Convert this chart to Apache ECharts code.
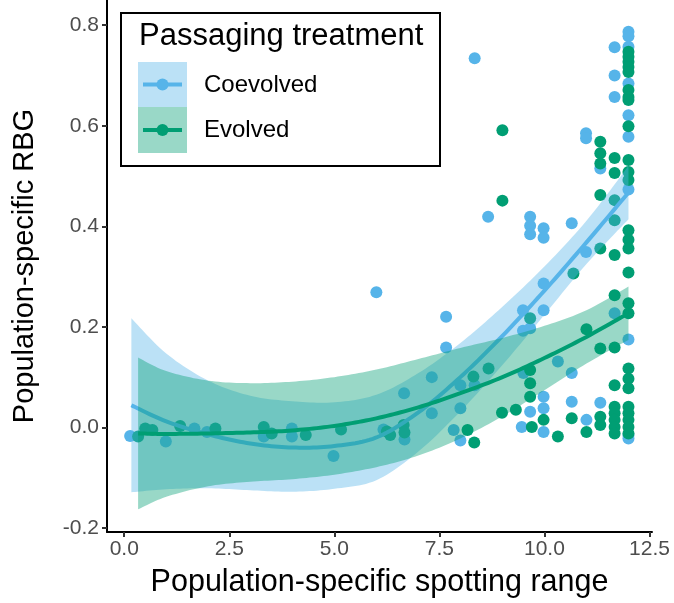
<!DOCTYPE html>
<html>
<head>
<meta charset="utf-8">
<script src="https://cdn.jsdelivr.net/npm/echarts@6/dist/echarts.min.js"></script>
<style>
html,body{margin:0;padding:0;background:#fff;}
#chart{width:674px;height:603px;}
</style>
</head>
<body>
<div id="chart"></div>
<script>
// ---------- data ----------
const groups = ['Coevolved', 'Evolved'];
const legendTitle = 'Passaging treatment';
const xTitle = 'Population-specific spotting range';
const yTitle = 'Population-specific RBG';

const xTicks = [0, 2.5, 5, 7.5, 10, 12.5];
const xTickLabels = ['0.0', '2.5', '5.0', '7.5', '10.0', '12.5'];
const yTicks = [-0.2, 0, 0.2, 0.4, 0.6, 0.8];
const yTickLabels = ['-0.2', '0.0', '0.2', '0.4', '0.6', '0.8'];

// Coevolved points [range, RBG]
const coevolvedPoints = [
  [0.14, -0.017], [0.99, -0.028], [1.67, -0.002], [1.97, -0.009], [3.32, -0.018],
  [3.99, -0.002], [3.99, -0.018], [4.98, -0.057], [6.0, 0.269], [6.17, -0.004],
  [6.67, -0.024], [6.66, 0.068], [7.32, 0.100], [7.32, 0.028], [7.66, 0.220],
  [7.66, 0.159], [7.84, -0.005], [8.0, 0.084], [8.0, 0.038], [8.0, -0.026],
  [8.34, 0.084], [8.34, 0.734], [8.66, 0.419], [9.46, 0.001], [9.49, 0.233],
  [9.49, 0.192], [9.5, 0.108], [9.66, 0.419], [9.66, 0.401], [9.66, 0.384],
  [9.66, 0.197], [9.66, 0.031], [9.98, 0.396], [9.98, 0.377], [9.98, 0.286],
  [9.98, 0.233], [9.98, 0.061], [9.98, 0.038], [9.98, -0.009], [10.32, 0.131],
  [10.65, 0.406], [10.65, 0.108], [10.65, 0.051], [10.99, 0.585], [10.99, 0.575],
  [10.99, 0.349], [11.0, 0.015], [11.33, 0.515], [11.33, 0.049], [11.67, 0.227],
  [11.67, 0.756], [11.67, 0.700], [11.67, 0.657], [12, 0.787], [12, 0.778],
  [12, 0.757], [12, 0.684], [12, 0.621], [12, 0.578], [12, 0.473],
  [12, 0.175], [12, -0.015], [12, -0.022]
];

// Evolved points [range, RBG]
const evolvedPoints = [
  [0.33, -0.018], [0.50, -0.002], [0.67, -0.005], [1.33, 0.003], [2.17, -0.002],
  [3.32, 0.001], [3.51, -0.012], [4.32, -0.015], [5.16, -0.004], [6.25, -0.008],
  [6.33, -0.015], [6.65, 0.005], [6.67, -0.010], [8.17, -0.005], [8.31, 0.101],
  [8.33, -0.030], [8.67, 0.117], [8.99, 0.029], [9.0, 0.591], [9.0, 0.451],
  [9.32, 0.035], [9.66, 0.217], [9.66, 0.114], [9.66, 0.088], [9.66, 0.061],
  [9.70, 0.001], [9.98, 0.015], [10.32, -0.018], [10.65, 0.018], [10.69, 0.306],
  [11.0, 0.195], [11.0, -0.009], [11.33, 0.568], [11.33, 0.545], [11.33, 0.525],
  [11.33, 0.462], [11.33, 0.356], [11.33, 0.157], [11.33, 0.021], [11.33, 0.005],
  [11.67, 0.263], [11.67, 0.159], [11.67, 0.084], [11.67, 0.041], [11.67, 0.028],
  [11.67, 0.015], [11.67, 0.001], [11.67, -0.012], [11.67, 0.536], [11.67, 0.506],
  [11.67, 0.452], [11.67, 0.412], [11.67, 0.343], [12, 0.747], [12, 0.737],
  [12, 0.727], [12, 0.717], [12, 0.707], [12, 0.671], [12, 0.657],
  [12, 0.651], [12, 0.599], [12, 0.532], [12, 0.508], [12, 0.492],
  [12, 0.392], [12, 0.373], [12, 0.356], [12, 0.308], [12, 0.247],
  [12, 0.227], [12, 0.117], [12, 0.097], [12, 0.078], [12, 0.041],
  [12, 0.028], [12, 0.015], [12, 0.001], [12, -0.012]
];

// Smooth fits with confidence bands
const coevolvedFitX = [0.17, 1, 2, 3, 4, 5, 6, 7, 8, 9, 10, 11, 12];
const coevolvedFit  = [0.044, 0.012, -0.014, -0.032, -0.040, -0.037, -0.020, 0.030, 0.100, 0.182, 0.272, 0.368, 0.467];
const coevolvedUpper = [0.217, 0.147, 0.093, 0.063, 0.052, 0.050, 0.065, 0.108, 0.168, 0.240, 0.320, 0.411, 0.520];
const coevolvedLower = [-0.129, -0.123, -0.121, -0.125, -0.128, -0.122, -0.105, -0.048, 0.032, 0.124, 0.224, 0.325, 0.414];

const evolvedFitX = [0.33, 1, 2, 3, 4, 5, 6, 7, 8, 9, 10, 11, 12];
const evolvedFit   = [-0.012, -0.013, -0.012, -0.010, -0.006, 0.003, 0.018, 0.040, 0.068, 0.100, 0.138, 0.180, 0.227];
const evolvedUpper = [0.139, 0.112, 0.093, 0.088, 0.091, 0.100, 0.115, 0.136, 0.158, 0.178, 0.202, 0.233, 0.280];
const evolvedLower = [-0.163, -0.138, -0.117, -0.108, -0.103, -0.094, -0.079, -0.056, -0.022, 0.022, 0.074, 0.127, 0.174];

// ---------- styles ----------
const BLUE = '#56B4E9';
const GREEN = '#009E73';
const BLUE_FILL = 'rgba(86,180,233,0.4)';
const GREEN_FILL = 'rgba(0,158,115,0.4)';
const FONT = '"Liberation Sans", Arial, Helvetica, sans-serif';

// Catmull-Rom spline through pixel points (rendering only)
function spline(pts, seg) {
  seg = seg || 12;
  const out = [];
  const n = pts.length;
  for (let i = 0; i < n - 1; i++) {
    const p0 = pts[i - 1] || pts[i], p1 = pts[i], p2 = pts[i + 1], p3 = pts[i + 2] || pts[i + 1];
    for (let s = 0; s < seg; s++) {
      const t = s / seg, t2 = t * t, t3 = t2 * t;
      const f = k => 0.5 * ((2 * p1[k]) + (-p0[k] + p2[k]) * t +
        (2 * p0[k] - 5 * p1[k] + 4 * p2[k] - p3[k]) * t2 +
        (-p0[k] + 3 * p1[k] - 3 * p2[k] + p3[k]) * t3);
      out.push([f(0), f(1)]);
    }
  }
  out.push(pts[n - 1]);
  return out;
}

function ribbonSeries(xs, lo, hi, fill, z) {
  return {
    type: 'custom', z: z, silent: true, coordinateSystem: 'cartesian2d',
    data: [[xs[0], lo[0]]],
    renderItem: (params, api) => {
      const up = spline(xs.map((x, i) => api.coord([x, hi[i]])));
      const dn = spline(xs.map((x, i) => api.coord([x, lo[i]])));
      return { type: 'polygon', shape: { points: up.concat(dn.reverse()) }, style: { fill: fill } };
    }
  };
}

function fitSeries(xs, ys, color, z) {
  return {
    type: 'custom', z: z, silent: true, coordinateSystem: 'cartesian2d',
    data: [[xs[0], ys[0]]],
    renderItem: (params, api) => {
      const pts = spline(xs.map((x, i) => api.coord([x, ys[i]])));
      return { type: 'polyline', shape: { points: pts }, style: { stroke: color, lineWidth: 4, fill: 'none' } };
    }
  };
}

const chart = echarts.init(document.getElementById('chart'), null, { renderer: 'canvas' });

const option = {
  animation: false,
  backgroundColor: '#fff',
  grid: { left: 107, right: 22, top: 0, bottom: 71, containLabel: false },
  xAxis: {
    type: 'value', min: -0.41, max: 12.56,
    name: xTitle, nameLocation: 'middle', nameGap: 35,
    nameTextStyle: { fontSize: 30.5, color: '#000', fontFamily: FONT },
    axisLine: { onZero: false, lineStyle: { color: '#000', width: 2 } },
    axisTick: { customValues: xTicks, length: 5, lineStyle: { color: '#333', width: 2 } },
    axisLabel: {
      customValues: xTicks, color: '#4d4d4d', fontSize: 21, margin: 7, fontFamily: FONT,
      formatter: v => { const i = xTicks.indexOf(v); return i >= 0 ? xTickLabels[i] : String(v); }
    },
    splitLine: { show: false }
  },
  yAxis: {
    type: 'value', min: -0.208, max: 0.85,
    name: yTitle, nameLocation: 'middle', nameGap: 68, nameRotate: 90,
    nameTextStyle: { fontSize: 29, color: '#000', fontFamily: FONT },
    axisLine: { show: true, onZero: false, lineStyle: { color: '#000', width: 2 } },
    axisTick: { show: true, customValues: yTicks, length: 5, lineStyle: { color: '#333', width: 2 } },
    axisLabel: {
      customValues: yTicks, color: '#4d4d4d', fontSize: 21, margin: 8, fontFamily: FONT,
      formatter: v => { const i = yTicks.indexOf(v); return i >= 0 ? yTickLabels[i] : String(v); }
    },
    splitLine: { show: false }
  },
  series: [
    { name: groups[0], type: 'scatter', z: 2, symbolSize: 12,
      itemStyle: { color: BLUE, opacity: 1 }, data: coevolvedPoints },
    { name: groups[1], type: 'scatter', z: 2, symbolSize: 12,
      itemStyle: { color: GREEN, opacity: 1 }, data: evolvedPoints },
    ribbonSeries(coevolvedFitX, coevolvedLower, coevolvedUpper, BLUE_FILL, 3),
    fitSeries(coevolvedFitX, coevolvedFit, BLUE, 4),
    ribbonSeries(evolvedFitX, evolvedLower, evolvedUpper, GREEN_FILL, 5),
    fitSeries(evolvedFitX, evolvedFit, GREEN, 6)
  ],
  graphic: [
    { type: 'rect', z: 100, shape: { x: 121, y: 13, width: 319, height: 153 },
      style: { fill: '#fff', stroke: '#000', lineWidth: 2 } },
    { type: 'text', z: 101, x: 139, y: 36,
      style: { text: legendTitle, fill: '#000', font: '31px ' + FONT, verticalAlign: 'middle' } },
    { type: 'rect', z: 101, shape: { x: 138, y: 62, width: 49, height: 45 }, style: { fill: BLUE_FILL } },
    { type: 'rect', z: 101, shape: { x: 138, y: 107, width: 49, height: 46 }, style: { fill: GREEN_FILL } },
    { type: 'line', z: 102, shape: { x1: 143, y1: 84.5, x2: 182, y2: 84.5 }, style: { stroke: BLUE, lineWidth: 4 } },
    { type: 'line', z: 102, shape: { x1: 143, y1: 130, x2: 182, y2: 130 }, style: { stroke: GREEN, lineWidth: 4 } },
    { type: 'circle', z: 103, shape: { cx: 162.5, cy: 84.5, r: 6 }, style: { fill: BLUE } },
    { type: 'circle', z: 103, shape: { cx: 162.5, cy: 130, r: 6 }, style: { fill: GREEN } },
    { type: 'text', z: 101, x: 204, y: 85.5,
      style: { text: groups[0], fill: '#000', font: '24px ' + FONT, verticalAlign: 'middle' } },
    { type: 'text', z: 101, x: 204, y: 130.5,
      style: { text: groups[1], fill: '#000', font: '24px ' + FONT, verticalAlign: 'middle' } }
  ]
};
chart.setOption(option);
</script>
</body>
</html>
